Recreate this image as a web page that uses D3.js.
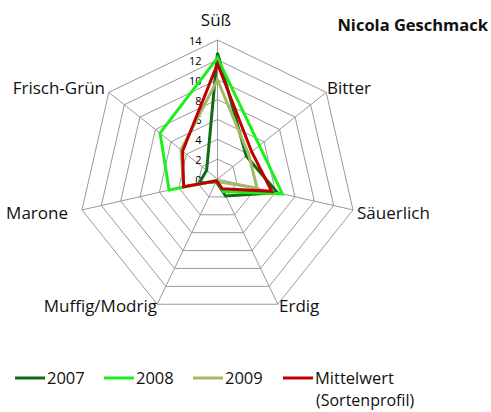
<!DOCTYPE html>
<html>
<head>
<meta charset="utf-8">
<script src="https://cdn.jsdelivr.net/npm/d3@7"></script>
<style>
  html, body { margin: 0; padding: 0; background: #fff; }
  svg { display: block; font-family: "Open Sans", Lato, sans-serif; }
</style>
</head>
<body>
<svg id="chart" width="491" height="412"></svg>
<script>
// Taste attributes (spokes, clockwise from top)
const attributes = ["Süß", "Bitter", "Säuerlich", "Erdig", "Muffig/Modrig", "Marone", "Frisch-Grün"];

// Panel scores per vintage and the variety mean
const values2007 = [12.7, 3.7, 6.2, 1.9, 0.3, 1.9, 1.4];
const values2008 = [12.2, 5.4, 6.7, 1.4, 0.2, 5.0, 7.4];
const values2009 = [10.0, 4.0, 4.1, 0.3, 0.2, 3.5, 4.7];
const valuesMean = [11.6, 4.4, 5.6, 1.1, 0.2, 3.5, 4.5];

const seriesNames = ["2007", "2008", "2009", "Mittelwert"];
const legendSubtitle = "(Sortenprofil)";
const tickValues = [0, 2, 4, 6, 8, 10, 12, 14];
const title = "Nicola Geschmack";

const series = [
  { name: seriesNames[0], values: values2007, color: "#0f6e12" },
  { name: seriesNames[1], values: values2008, color: "#1cf01c" },
  { name: seriesNames[2], values: values2009, color: "#a2b966" },
  { name: seriesNames[3], values: valuesMean, color: "#c00000" }
];

const svg = d3.select("#chart");
const cx = 217.5, cy = 179, R = 139;
const n = attributes.length;

const r = d3.scaleLinear().domain([0, 14]).range([0, R]);
const angle = d3.scaleLinear().domain([0, n]).range([0, 2 * Math.PI]);

const pt = (i, v) => [cx + r(v) * Math.sin(angle(i)), cy - r(v) * Math.cos(angle(i))];

const g = svg.append("g");

// Heptagonal grid rings
tickValues.filter(t => t > 0).forEach(t => {
  g.append("path")
    .attr("d", d3.line()(d3.range(n).map(i => pt(i, t))) + "Z")
    .attr("fill", "none")
    .attr("stroke", "#9a9a9a")
    .attr("stroke-width", 1);
});

// Spokes
d3.range(n).forEach(i => {
  const [x, y] = pt(i, 14);
  g.append("line")
    .attr("x1", cx).attr("y1", cy).attr("x2", x).attr("y2", y)
    .attr("stroke", "#9a9a9a").attr("stroke-width", 1);
});

// Radial tick labels
g.selectAll("text.tick").data(tickValues).join("text")
  .attr("class", "tick")
  .attr("x", cx - 16)
  .attr("y", d => cy - r(d) + 2)
  .attr("text-anchor", "end")
  .attr("dominant-baseline", "middle")
  .attr("font-size", 11)
  .attr("fill", "#000")
  .text(d => d);

// Series polygons
const radial = d3.lineRadial()
  .angle((d, i) => angle(i))
  .radius(d => r(d))
  .curve(d3.curveLinearClosed);

series.forEach(s => {
  g.append("path")
    .attr("transform", `translate(${cx},${cy})`)
    .attr("d", radial(s.values))
    .attr("fill", "none")
    .attr("stroke", s.color)
    .attr("stroke-width", 3)
    .attr("stroke-linejoin", "miter");
});

// Attribute labels
const labelPos = [
  { x: 216, y: 21, anchor: "middle" },
  { x: 327, y: 89, anchor: "start" },
  { x: 357, y: 214, anchor: "start" },
  { x: 279, y: 307, anchor: "start" },
  { x: 157, y: 307, anchor: "end" },
  { x: 68, y: 214, anchor: "end" },
  { x: 105, y: 89, anchor: "end" }
];
attributes.forEach((a, i) => {
  svg.append("text")
    .attr("x", labelPos[i].x).attr("y", labelPos[i].y)
    .attr("text-anchor", labelPos[i].anchor)
    .attr("dominant-baseline", "middle")
    .attr("font-size", 17)
    .attr("fill", "#111")
    .text(a);
});

// Title
svg.append("text")
  .attr("x", 488).attr("y", 27)
  .attr("text-anchor", "end")
  .attr("dominant-baseline", "middle")
  .attr("font-size", 16.5)
  .attr("font-weight", "bold")
  .attr("fill", "#111")
  .text(title);

// Legend
const legendX = [15, 104, 193, 283];
series.forEach((s, i) => {
  const lg = svg.append("g").attr("transform", `translate(${legendX[i]},378)`);
  lg.append("line")
    .attr("x1", 0).attr("x2", 30).attr("y1", 0).attr("y2", 0)
    .attr("stroke", s.color).attr("stroke-width", 3);
  lg.append("text")
    .attr("x", 32).attr("y", 5.5)
    .attr("font-size", 16.5)
    .attr("fill", "#111")
    .text(s.name);
  if (i === 3) {
    lg.append("text")
      .attr("x", 33).attr("y", 28)
      .attr("font-size", 16)
      .attr("fill", "#111")
      .text(legendSubtitle);
  }
});
</script>
</body>
</html>
